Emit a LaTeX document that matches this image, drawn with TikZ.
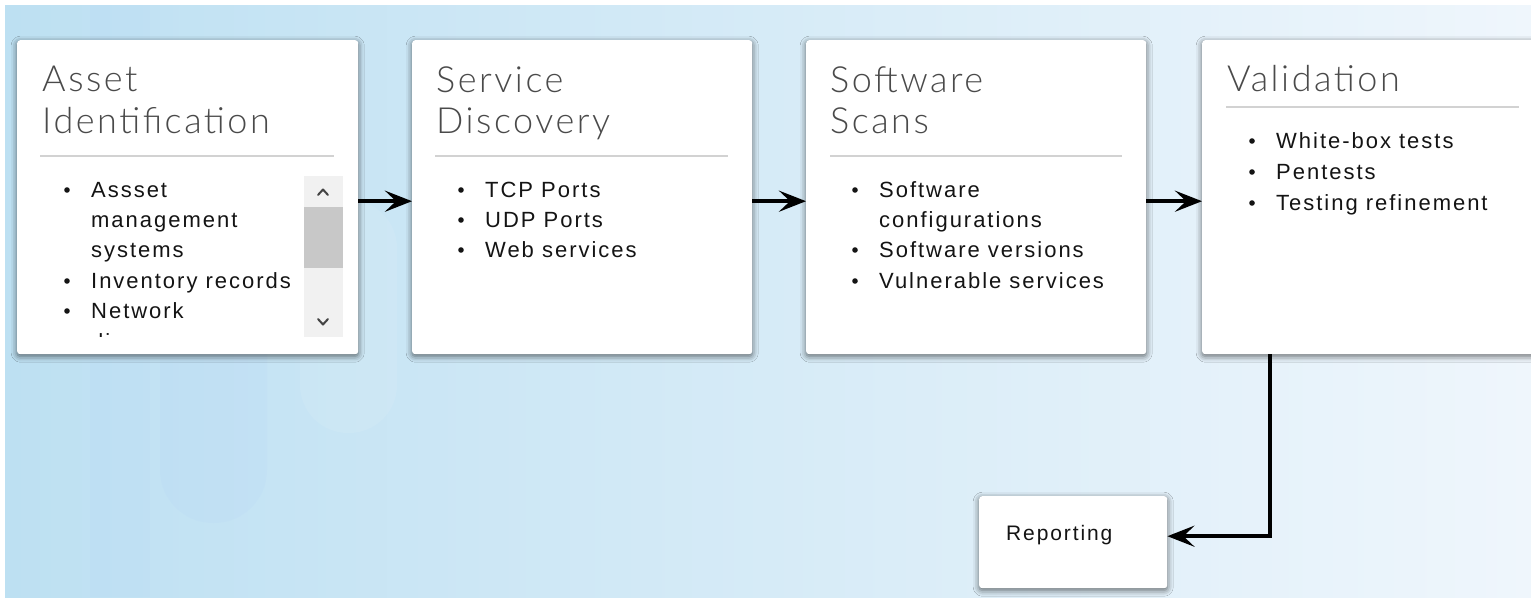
\documentclass[tikz,border=0pt]{standalone}
\usepackage{fontspec}
\setmainfont{Liberation Sans}
\newfontfamily\bodyfont{Liberation Sans}[LetterSpace=9]
\IfFontExistsTF{Lato Light}
  {\newfontfamily\titlefont{Lato Light}[LetterSpace=7]}
  {\newfontfamily\titlefont{Liberation Sans}}
\usetikzlibrary{arrows.meta,shadows.blur}

\definecolor{bgleft}{HTML}{BDE0F2}
\definecolor{bgmid}{HTML}{CFE8F5}
\definecolor{bgright}{HTML}{EFF6FC}
\definecolor{titlegray}{HTML}{4A4A4A}
\definecolor{bodyblack}{HTML}{141414}
\definecolor{rulegray}{HTML}{D2D2D2}
\definecolor{tracklight}{HTML}{F1F1F1}
\definecolor{thumbgray}{HTML}{C8C8C8}
\definecolor{chevron}{HTML}{444444}

\tikzset{
  card/.style={rectangle, rounded corners=3pt, fill=white, inner sep=0pt,
    anchor=north west,
    blur shadow={shadow xshift=0pt, shadow yshift=-2pt,
      shadow blur radius=6pt, shadow opacity=60}},
  title/.style={font=\titlefont\fontsize{36}{42}\selectfont, text=titlegray,
    anchor=base west, inner sep=0pt},
  item/.style={font=\bodyfont\fontsize{22}{30}\selectfont, text=bodyblack,
    anchor=base west, inner sep=0pt},
  sep/.style={draw=rulegray, line width=1.5pt},
  conn/.style={draw=black, line width=4pt,
    -{Stealth[length=27pt, width=21pt, inset=11pt]}},
}

% one bulleted line: name, x, baseline y, text
\newcommand\listitem[4]{%
  \fill[bodyblack] (#2-24,#3-7) circle[radius=2.8pt];
  \node[item] (#1) at (#2,#3) {#4};}

\begin{document}
\begin{tikzpicture}[x=1pt,y=-1pt]
\useasboundingbox (0,0) rectangle (1531,597);

% backdrop
\fill[white] (0,0) rectangle (1531,597);
\shade[left color=bgleft, middle color=bgmid, right color=bgright]
  (5,5) rectangle (1531,597);
\fill[bgleft!80!blue, opacity=0.04] (90,5) rectangle (150,597);
\fill[bgleft!80!blue, opacity=0.05, rounded corners=53pt] (160,200) rectangle (267,523);
\fill[white, opacity=0.08, rounded corners=48pt] (300,200) rectangle (397,433);

% cards
\node[card, minimum width=341pt, minimum height=314pt] (asset) at (17,40) {};
\node[card, minimum width=340pt, minimum height=314pt] (service) at (412,40) {};
\node[card, minimum width=340pt, minimum height=314pt] (software) at (806,40) {};
\node[card, minimum width=345pt, minimum height=314pt] (valid) at (1202,40) {};
\node[card, minimum width=188pt, minimum height=92pt] (report) at (979,496) {};

% titles and rules
\node[title] (t1a) at (42,91) {Asset};
\node[title] (t1b) at (42,133) {Identification};
\draw[sep] (40,156) -- (334,156);

\node[title] (t2a) at (436,92) {Service};
\node[title] (t2b) at (436,133) {Discovery};
\draw[sep] (435,156) -- (728,156);

\node[title] (t3a) at (830,92) {Software};
\node[title] (t3b) at (830,133) {Scans};
\draw[sep] (830,156) -- (1122,156);

\node[title] (t4a) at (1227,91) {Validation};
\draw[sep] (1226,107) -- (1519,107);

% scrolling list of the first card
\begin{scope}
  \clip (17,168) rectangle (304,336);
  \listitem{a1}{91}{197}{Assset}
  \node[item] (a2) at (91,227) {management};
  \node[item] (a3) at (91,257) {systems};
  \listitem{a4}{91}{288}{Inventory records}
  \listitem{a5}{91}{318}{Network}
  \node[item] (a6) at (91,349) {discovery};
\end{scope}

% scrollbar
\fill[tracklight] (304,176) rectangle (343,337);
\fill[thumbgray] (304,207) rectangle (343,268);
\draw[chevron, line width=2pt, line cap=round, line join=round]
  (318,195) -- (323,189.5) -- (328,195);
\draw[chevron, line width=2pt, line cap=round, line join=round]
  (318,319) -- (323,324.5) -- (328,319);

% remaining lists
\listitem{b1}{485}{197}{TCP Ports}
\listitem{b2}{485}{227}{UDP Ports}
\listitem{b3}{485}{257}{Web services}

\listitem{c1}{879}{197}{Software}
\node[item] (c2) at (879,227) {configurations};
\listitem{c3}{879}{257}{Software versions}
\listitem{c4}{879}{288}{Vulnerable services}

\listitem{d1}{1276}{148}{White-box tests}
\listitem{d2}{1276}{179}{Pentests}
\listitem{d3}{1276}{210}{Testing refinement}

\node[item, font=\bodyfont\fontsize{21}{24}\selectfont] (r1) at (1006,540) {Reporting};

% connectors
\draw[conn] ([yshift=-4pt]asset.east) -- ([yshift=-4pt]service.west);
\draw[conn] ([yshift=-4pt]service.east) -- ([yshift=-4pt]software.west);
\draw[conn] ([yshift=-4pt]software.east) -- ([yshift=-4pt]valid.west);
\draw[conn] ([xshift=68pt]valid.south west) |- ([yshift=6pt]report.east);
\end{tikzpicture}
\end{document}
